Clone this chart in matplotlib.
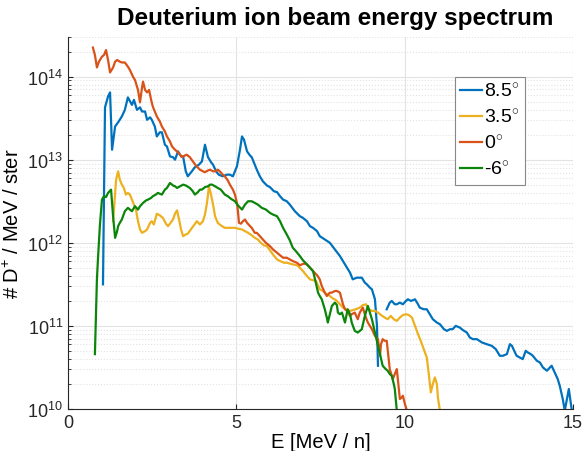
import numpy as np
import matplotlib
matplotlib.use("Agg")
from matplotlib import pyplot as plt

plt.rcParams['font.family'] = ['Liberation Sans', 'DejaVu Sans']
plt.rcParams['mathtext.fontset'] = 'custom'
plt.rcParams['mathtext.rm'] = 'Liberation Sans'
plt.rcParams['mathtext.it'] = 'Liberation Sans:italic'
plt.rcParams['mathtext.bf'] = 'Liberation Sans:bold'

# %% Data (energy in MeV/n, spectrum as log10 of #D+/MeV/ster)
labels = ['8.5$^{\\circ}$', '3.5$^{\\circ}$', '0$^{\\circ}$', '-6$^{\\circ}$']
colors = ['#0072BD', '#EDB120', '#D95319', '#0B860B']

E_85 = [1.04, 1.10, 1.19, 1.25, 1.31, 1.40, 1.49, 1.60, 1.69, 1.78, 1.90, 1.96, 2.05, 2.14,
        2.20, 2.29, 2.35, 2.44, 2.49, 2.58, 2.64, 2.73, 2.79, 2.88, 2.94, 3.03, 3.12, 3.18,
        3.27, 3.36, 3.42, 3.50, 3.56, 3.68, 3.77, 3.89, 3.98, 4.07, 4.16, 4.25, 4.31, 4.40,
        4.48, 4.60, 4.72, 4.81, 4.90, 5.02, 5.11, 5.17, 5.23, 5.32, 5.41, 5.46, 5.55, 5.61,
        5.70, 5.79, 5.91, 6.00, 6.12, 6.21, 6.30, 6.39, 6.50, 6.59, 6.74, 6.89, 6.98, 7.10,
        7.19, 7.28, 7.40, 7.48, 7.63, 7.78, 7.93, 8.08, 8.23, 8.38, 8.46, 8.58, 8.73, 8.82,
        8.88, 8.97, 9.03, 9.12, 9.18, 9.21, 9.30,
        9.47, 9.56, 9.62, 9.71, 9.77, 9.86, 9.95, 10.04, 10.10, 10.19, 10.31, 10.40, 10.45,
        10.57, 10.66, 10.75, 10.84, 10.96, 11.05, 11.17, 11.26, 11.35, 11.43, 11.52, 11.64,
        11.73, 11.85, 11.94, 12.03, 12.15, 12.30, 12.44, 12.59, 12.71, 12.83, 12.92, 13.04,
        13.13, 13.19, 13.28, 13.33, 13.42, 13.51, 13.60, 13.66, 13.75, 13.81, 13.93, 14.02,
        14.11, 14.23, 14.32, 14.37, 14.46, 14.55, 14.61, 14.70, 14.76, 14.85, 14.88, 14.97]
L_85 = [11.50, 13.63, 13.76, 13.81, 13.12, 13.40, 13.45, 13.52, 13.60, 13.75, 13.66, 13.72, 13.60, 13.63,
        13.58, 13.58, 13.48, 13.51, 13.48, 13.40, 13.28, 13.33, 13.33, 13.18, 13.16, 13.04, 13.03, 13.00,
        13.10, 13.04, 13.04, 12.86, 12.80, 12.86, 12.91, 12.94, 12.98, 13.18, 13.03, 12.97, 12.94, 12.86,
        12.82, 12.80, 12.82, 12.82, 12.80, 12.92, 13.12, 13.28, 13.24, 13.10, 13.05, 13.03, 12.94, 12.88,
        12.80, 12.74, 12.69, 12.67, 12.62, 12.61, 12.56, 12.52, 12.50, 12.46, 12.38, 12.32, 12.30, 12.26,
        12.20, 12.18, 12.14, 12.08, 12.04, 12.00, 11.92, 11.84, 11.74, 11.64, 11.56, 11.58, 11.58, 11.52,
        11.50, 11.46, 11.44, 11.32, 11.00, 10.52, np.nan,
        11.20, 11.28, 11.30, 11.26, 11.26, 11.28, 11.26, 11.30, 11.32, 11.30, 11.32, 11.26, 11.22,
        11.20, 11.20, 11.14, 11.08, 11.04, 11.02, 10.96, 10.94, 10.96, 10.96, 11.00, 10.98,
        10.95, 10.92, 10.86, 10.84, 10.84, 10.80, 10.78, 10.76, 10.72, 10.64, 10.64, 10.66,
        10.78, 10.76, 10.68, 10.64, 10.62, 10.60, 10.70, 10.68, 10.66, 10.64, 10.58, 10.56,
        10.50, 10.46, 10.50, 10.52, 10.44, 10.36, 10.28, 10.12, 9.98, 10.18, 10.24, 9.98]

E_35 = [1.34, 1.43, 1.49, 1.54, 1.60, 1.66, 1.72, 1.78, 1.84, 1.90, 1.96, 2.02, 2.08, 2.14,
        2.20, 2.29, 2.35, 2.44, 2.49, 2.55, 2.64, 2.73, 2.82, 2.91, 2.97, 3.03, 3.12, 3.18,
        3.24, 3.30, 3.36, 3.42, 3.50, 3.56, 3.65, 3.74, 3.83, 3.92, 4.01, 4.07, 4.13, 4.19,
        4.25, 4.31, 4.37, 4.45, 4.54, 4.66, 4.81, 4.96, 5.05, 5.17, 5.26, 5.35, 5.46, 5.55,
        5.64, 5.73, 5.82, 5.91, 6.00, 6.09, 6.21, 6.30, 6.42, 6.50, 6.59, 6.68, 6.80, 6.89,
        6.98, 7.10, 7.19, 7.28, 7.37, 7.48, 7.57, 7.66, 7.78, 7.87, 7.96, 8.08, 8.17, 8.26,
        8.38, 8.46, 8.55, 8.67, 8.76, 8.85, 8.94, 9.03, 9.12, 9.21, 9.30, 9.41, 9.50, 9.59,
        9.68, 9.77, 9.86, 9.95, 10.04, 10.13, 10.22, 10.31, 10.40, 10.48, 10.57, 10.66, 10.72,
        10.78, 10.84, 10.90, 10.96, 10.99, 11.05]
L_35 = [12.26, 12.76, 12.86, 12.76, 12.70, 12.66, 12.58, 12.60, 12.58, 12.52, 12.46, 12.40, 12.26, 12.16,
        12.12, 12.14, 12.16, 12.24, 12.26, 12.22, 12.35, 12.33, 12.30, 12.23, 12.20, 12.23, 12.28, 12.35,
        12.39, 12.28, 12.16, 12.08, 12.10, 12.11, 12.16, 12.21, 12.26, 12.22, 12.26, 12.34, 12.48, 12.68,
        12.58, 12.46, 12.32, 12.24, 12.21, 12.18, 12.18, 12.18, 12.17, 12.16, 12.14, 12.12, 12.09, 12.06,
        12.04, 12.00, 11.97, 11.96, 11.91, 11.86, 11.80, 11.78, 11.76, 11.76, 11.75, 11.74, 11.73, 11.70,
        11.66, 11.60, 11.56, 11.55, 11.54, 11.44, 11.42, 11.39, 11.36, 11.33, 11.31, 11.26, 11.22, 11.20,
        11.18, 11.19, 11.20, 11.22, 11.25, 11.26, 11.20, 11.18, 11.18, 11.16, 11.13, 11.10, 11.08, 11.12,
        11.08, 11.06, 11.10, 11.13, 11.14, 11.13, 11.10, 11.00, 10.90, 10.82, 10.72, 10.62, 10.42,
        10.20, 10.30, 10.38, 10.30, 10.14, 9.98]

E_0 = [0.74, 0.80, 0.86, 0.92, 1.01, 1.07, 1.13, 1.19, 1.25, 1.34, 1.40, 1.46, 1.54, 1.60,
       1.69, 1.78, 1.84, 1.93, 1.99, 2.08, 2.14, 2.20, 2.23, 2.29, 2.35, 2.41, 2.47, 2.52,
       2.58, 2.64, 2.73, 2.79, 2.88, 2.94, 3.03, 3.09, 3.18, 3.24, 3.33, 3.39, 3.47, 3.53,
       3.62, 3.71, 3.80, 3.92, 4.01, 4.07, 4.16, 4.22, 4.31, 4.37, 4.45, 4.51, 4.60, 4.66,
       4.75, 4.81, 4.90, 4.96, 5.02, 5.05, 5.08, 5.14, 5.20, 5.26, 5.32, 5.41, 5.46, 5.55,
       5.61, 5.70, 5.79, 5.88, 6.00, 6.09, 6.21, 6.30, 6.39, 6.50, 6.59, 6.68, 6.80, 6.89,
       7.01, 7.10, 7.19, 7.28, 7.40, 7.48, 7.54, 7.63, 7.69, 7.78, 7.84, 7.93, 7.99, 8.08,
       8.17, 8.23, 8.29, 8.38, 8.43, 8.52, 8.61, 8.67, 8.76, 8.85, 8.91, 9.03, 9.12, 9.21,
       9.27, 9.30, 9.35, 9.41, 9.47, 9.56, 9.65, 9.71, 9.77, 9.83, 9.86, 9.92, 9.95, 10.01, 10.07]
L_0 = [14.35, 14.26, 14.11, 14.18, 14.24, 14.26, 14.32, 14.20, 14.05, 14.11, 14.18, 14.20, 14.18, 14.17,
       14.17, 14.12, 14.08, 14.00, 13.96, 13.84, 13.69, 13.87, 13.94, 13.84, 13.81, 13.84, 13.72, 13.64,
       13.58, 13.52, 13.46, 13.40, 13.34, 13.28, 13.22, 13.16, 13.12, 13.10, 13.06, 13.03, 13.05, 13.06,
       13.03, 12.98, 12.93, 12.88, 12.86, 12.85, 12.87, 12.88, 12.86, 12.86, 12.88, 12.86, 12.82, 12.80,
       12.75, 12.70, 12.64, 12.58, 12.48, 12.38, 12.24, 12.23, 12.26, 12.28, 12.24, 12.20, 12.18, 12.12,
       12.12, 12.08, 12.04, 12.00, 11.96, 11.92, 11.88, 11.85, 11.82, 11.82, 11.80, 11.78, 11.76, 11.73,
       11.75, 11.74, 11.70, 11.66, 11.61, 11.56, 11.48, 11.40, 11.36, 11.40, 11.40, 11.42, 11.42, 11.40,
       11.26, 11.20, 11.18, 11.12, 11.14, 11.16, 11.08, 11.16, 11.22, 11.10, 11.04, 10.96, 10.88, 10.84,
       10.64, 10.78, 10.84, 10.82, 10.82, 10.48, 10.36, 10.42, 10.48, 10.24, 10.12, 10.14, 10.16, 10.06, 9.98]

E_m6 = [0.80, 0.86, 0.89, 0.95, 1.01, 1.07, 1.13, 1.19, 1.28, 1.34, 1.40, 1.46, 1.49, 1.54,
        1.60, 1.69, 1.78, 1.84, 1.90, 1.99, 2.08, 2.14, 2.23, 2.32, 2.38, 2.47, 2.52, 2.61,
        2.67, 2.73, 2.79, 2.88, 2.94, 3.03, 3.12, 3.18, 3.24, 3.33, 3.42, 3.50, 3.62, 3.71,
        3.77, 3.86, 3.92, 3.98, 4.07, 4.16, 4.22, 4.28, 4.37, 4.45, 4.54, 4.66, 4.75, 4.84,
        4.96, 5.05, 5.17, 5.26, 5.35, 5.46, 5.55, 5.64, 5.76, 5.88, 6.00, 6.09, 6.21, 6.30,
        6.39, 6.50, 6.59, 6.68, 6.77, 6.89, 6.98, 7.10, 7.19, 7.28, 7.34, 7.43, 7.48, 7.54,
        7.63, 7.69, 7.72, 7.78, 7.84, 7.93, 7.99, 8.02, 8.08, 8.14, 8.23, 8.31, 8.38, 8.43,
        8.52, 8.61, 8.67, 8.73, 8.82, 8.88, 8.91, 8.97, 9.03, 9.12, 9.21, 9.27, 9.35, 9.44,
        9.50, 9.56, 9.62, 9.68, 9.71, 9.77]
L_m6 = [10.66, 11.56, 11.80, 12.22, 12.52, 12.56, 12.55, 12.60, 12.64, 12.32, 12.06, 12.14, 12.20, 12.24,
        12.28, 12.38, 12.42, 12.40, 12.38, 12.44, 12.40, 12.44, 12.48, 12.51, 12.52, 12.54, 12.56, 12.58,
        12.60, 12.59, 12.58, 12.64, 12.66, 12.72, 12.69, 12.68, 12.66, 12.68, 12.70, 12.69, 12.66, 12.62,
        12.58, 12.61, 12.64, 12.64, 12.67, 12.68, 12.70, 12.70, 12.68, 12.66, 12.64, 12.58, 12.56, 12.53,
        12.50, 12.45, 12.40, 12.46, 12.50, 12.50, 12.48, 12.46, 12.42, 12.40, 12.36, 12.34, 12.32, 12.26,
        12.18, 12.10, 12.03, 11.94, 11.90, 11.84, 11.79, 11.74, 11.70, 11.66, 11.56, 11.40, 11.36, 11.32,
        11.20, 11.10, 11.04, 11.14, 11.24, 11.28, 11.25, 11.16, 11.14, 11.16, 11.04, 11.20, 11.14, 11.04,
        10.94, 10.92, 10.94, 10.96, 11.12, 11.20, 11.24, 11.16, 11.08, 10.92, 10.76, 10.66, 10.52, 10.48,
        10.46, 10.42, 10.40, 10.30, 10.24, 9.98]

series = [(E_85, L_85), (E_35, L_35), (E_0, L_0), (E_m6, L_m6)]

# %% Figure
fig = plt.figure(figsize=(5.83, 4.52), dpi=100)
ax = fig.add_axes([0.1166, 0.093, 0.866, 0.823])

for (E, L), lab, col in zip(series, labels, colors):
    ax.plot(E, 10 ** np.array(L, dtype=float), color=col, lw=1.6, label=lab)

ax.set_yscale('log')
ax.set_xlim(0, 15)
ax.set_ylim(1e10, 3e14)
ax.set_xticks([0, 5, 10, 15])

ax.grid(True, which='major', color='#e3e3e3', lw=0.8, ls='-')
ax.grid(True, which='minor', axis='y', color='#e3e3e3', lw=0.8, ls=':')
ax.set_axisbelow(True)

for s in ['top', 'right']:
    ax.spines[s].set_visible(False)
for s in ['left', 'bottom']:
    ax.spines[s].set_color('#262626')
    ax.spines[s].set_linewidth(0.8)
ax.tick_params(direction='in', which='both', labelsize=13, colors='#262626')
ax.tick_params(which='minor', length=2.5)

ax.set_title('Deuterium ion beam energy spectrum', fontsize=17.5, fontweight='bold', pad=9, x=0.53)
ax.set_xlabel('E [MeV / n]', fontsize=14.5, labelpad=1)
ax.set_ylabel('# D$^{+}$ / MeV / ster', fontsize=14.5, labelpad=3)

leg = ax.legend(loc='upper right', bbox_to_anchor=(0.905, 0.893), fontsize=14,
                handlelength=1.1, handletextpad=0.1, borderpad=0.3, labelspacing=0.4,
                fancybox=False, framealpha=1, borderaxespad=0)
leg.get_frame().set_edgecolor('#888888')
leg.get_frame().set_linewidth(0.8)

plt.savefig('out.png', dpi=100)
plt.close(fig)
